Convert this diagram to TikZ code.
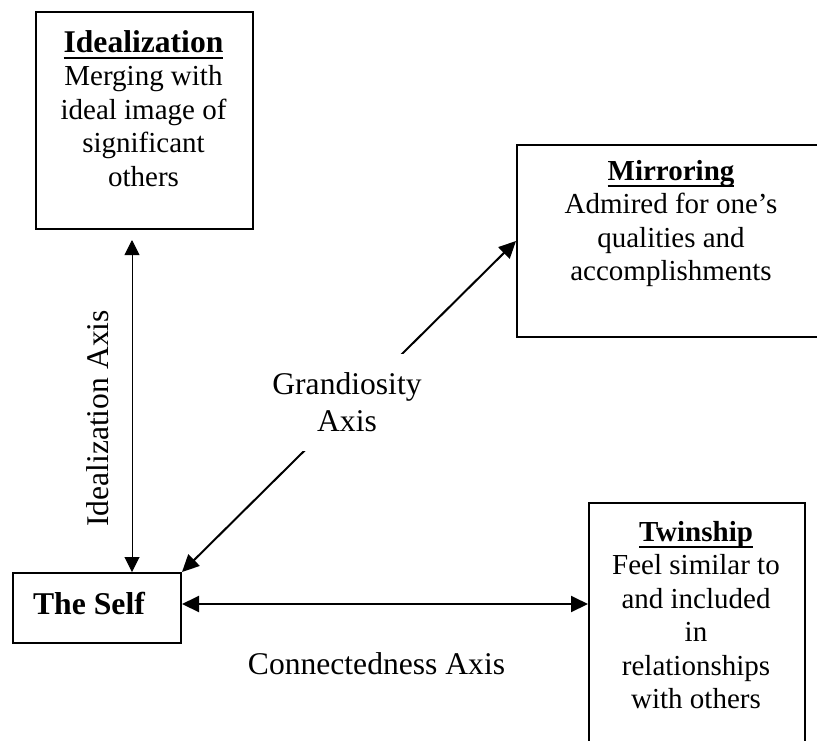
\documentclass[tikz,border=0pt]{standalone}
\usepackage{fontspec}
\setmainfont{Liberation Serif}
\usetikzlibrary{arrows.meta,calc}
\newcommand\ulbar[1]{\setbox0\hbox{#1}\rlap{\rule[-6.5pt]{\wd0}{2pt}}\box0}
\begin{document}
\begin{tikzpicture}[x=1pt,y=-1pt,
  box/.style={draw, line width=2pt, rectangle, inner sep=0pt, anchor=north west},
  body/.style={align=center, font=\fontsize{29}{33.5}\selectfont, anchor=base, inner sep=0pt},
  axislabel/.style={font=\fontsize{31.6}{36.5}\selectfont, inner sep=0pt},
  thickarrow/.style={line width=2pt, {Triangle[length=17pt,width=16pt]}-{Triangle[length=17pt,width=16pt]}},
  thinarrow/.style={line width=1pt, {Triangle[length=15pt,width=15pt]}-{Triangle[length=15pt,width=15pt]}}]
\useasboundingbox (0,0) rectangle (817,740);
% boxes
\node[box, minimum width=217pt, minimum height=217pt] (ideal) at (35,11) {};
\node[body] (idealtxt) at (143.5,186) {\ulbar{\fontsize{31.6}{33.5}\selectfont\bfseries Idealization}\\Merging with\\ideal image of\\significant\\others};
\node[box, minimum width=310pt, minimum height=192pt] (mirror) at (516,144) {};
\node[body] (mirrortxt) at (671,280.5) {\ulbar{\bfseries Mirroring}\\Admired for one’s\\qualities and\\accomplishments};
\node[box, minimum width=216pt, minimum height=262pt] (twin) at (588,502) {};
\node[body] (twintxt) at (696,708.5) {\ulbar{\bfseries Twinship}\\Feel similar to\\and included\\in\\relationships\\with others};
\node[box, minimum width=168pt, minimum height=70pt] (self) at (12,572) {};
\node[font=\fontsize{31.7}{36}\selectfont\bfseries, anchor=base, inner sep=0pt] (selftxt) at (89,614) {The Self};
% connectors
\coordinate (ia) at (132,240);
\draw[thinarrow] (ia) -- (ia |- self.north);
\draw[thickarrow] (self.north east) -- (mirror.west);
\draw[thickarrow] ([yshift=4pt]self.east) -- ([yshift=4pt]self.east -| twin.west);
% labels
\node[axislabel, rotate=90, anchor=base] (ialabel) at (108.5,418.5) {Idealization Axis};
\node[axislabel, fill=white, align=center, minimum height=97pt, minimum width=160pt] (glabel) at (347,402) {Grandiosity\\Axis};
\node[axislabel, anchor=base] (clabel) at (376.5,674) {Connectedness Axis};
\end{tikzpicture}
\end{document}
